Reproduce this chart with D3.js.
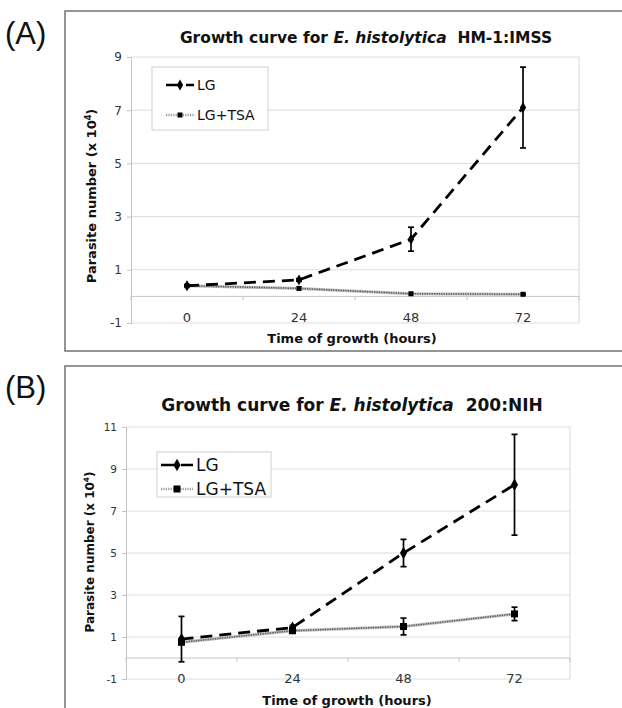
<!DOCTYPE html>
<html>
<head>
<meta charset="utf-8">
<script src="https://cdn.jsdelivr.net/npm/d3@7"></script>
<style>
  body { margin: 0; background: #fff; }
  svg { display: block; }
</style>
</head>
<body>
<svg id="chart" width="622" height="708"></svg>
<script>
// categories on the x axis (hours)
const hours = ["0", "24", "48", "72"];

// panel A, HM-1:IMSS
const ticksA = [-1, 1, 3, 5, 7, 9];
const lgA = [0.4, 0.62, 2.15, 7.1];
const lgErrA = [0.03, 0.05, 0.45, 1.52];
const tsaA = [0.4, 0.3, 0.1, 0.08];
const tsaErrA = [0.02, 0.03, 0.02, 0.02];

// panel B, 200:NIH
const ticksB = [-1, 1, 3, 5, 7, 9, 11];
const lgB = [0.9, 1.45, 5.0, 8.25];
const lgErrB = [1.08, 0.1, 0.65, 2.4];
const tsaB = [0.75, 1.3, 1.5, 2.1];
const tsaErrB = [0.1, 0.12, 0.4, 0.32];

const seriesNames = ["LG", "LG+TSA"];

const svg = d3.select('#chart');
const font = "'DejaVu Sans', Verdana, sans-serif";

function drawPanel(p) {
  const g = svg.append('g');

  // outer frame
  g.append('rect')
    .attr('x', p.frame[0]).attr('y', p.frame[1])
    .attr('width', p.frame[2]).attr('height', p.frame[3])
    .attr('fill', 'none').attr('stroke', '#7a7a7a').attr('stroke-width', 1.6);

  g.append('text')
    .attr('x', 5).attr('y', p.letterY)
    .attr('font-family', "'Liberation Sans', Arial, sans-serif")
    .attr('font-size', 31).attr('fill', '#111')
    .text(p.letter);

  const x = d3.scaleBand().domain(hours).range([p.left, p.right]);
  const y = d3.scaleLinear().domain([p.ticks[0], p.ticks[p.ticks.length - 1]]).range([p.bottom, p.top]);

  // gridlines
  g.append('g').selectAll('line')
    .data(p.ticks)
    .join('line')
    .attr('x1', p.left).attr('x2', p.right)
    .attr('y1', d => y(d)).attr('y2', d => y(d))
    .attr('stroke', '#dcdcdc').attr('stroke-width', 1);

  // right border
  g.append('line')
    .attr('x1', p.right).attr('x2', p.right)
    .attr('y1', p.top).attr('y2', p.bottom)
    .attr('stroke', '#d6d6d6');

  // y axis
  const yAxis = g.append('g')
    .attr('transform', `translate(${p.left},0)`)
    .call(d3.axisLeft(y).tickValues(p.ticks).tickFormat(d => String(d)).tickSize(4).tickPadding(5));
  yAxis.select('.domain').attr('stroke', '#c4c4c4');
  yAxis.selectAll('.tick line').attr('stroke', '#c4c4c4');
  yAxis.selectAll('.tick text')
    .attr('font-family', font).attr('font-size', p.yTickSize).attr('fill', '#333');

  // x axis at zero with ticks between categories
  const zeroY = y(0);
  g.append('line')
    .attr('x1', p.left).attr('x2', p.right)
    .attr('y1', zeroY).attr('y2', zeroY)
    .attr('stroke', '#c4c4c4');
  const bounds = hours.map(h => x(h)).concat([p.right]);
  g.append('g').selectAll('line')
    .data(bounds)
    .join('line')
    .attr('x1', d => d).attr('x2', d => d)
    .attr('y1', zeroY).attr('y2', zeroY + 4)
    .attr('stroke', '#c4c4c4');
  g.append('g').selectAll('text')
    .data(hours)
    .join('text')
    .attr('x', d => x(d) + x.bandwidth() / 2)
    .attr('y', p.xTickY)
    .attr('text-anchor', 'middle')
    .attr('font-family', font).attr('font-size', 13).attr('fill', '#333')
    .text(d => d);

  const cx = (d, i) => x(hours[i]) + x.bandwidth() / 2;
  const line = d3.line().x(cx).y(d => y(d));

  // error bars
  function errBars(vals, errs) {
    const eg = g.append('g').attr('stroke', '#000').attr('stroke-width', 1.7);
    eg.selectAll('.v').data(vals).join('line')
      .attr('x1', cx).attr('x2', cx)
      .attr('y1', (d, i) => y(d + errs[i])).attr('y2', (d, i) => y(d - errs[i]));
    [1, -1].forEach(s => {
      eg.selectAll('.c' + s).data(vals).join('line')
        .attr('x1', (d, i) => cx(d, i) - 3).attr('x2', (d, i) => cx(d, i) + 3)
        .attr('y1', (d, i) => y(d + s * errs[i])).attr('y2', (d, i) => y(d + s * errs[i]));
    });
  }
  errBars(p.tsa, p.tsaErr);
  errBars(p.lg, p.lgErr);

  // LG+TSA line, dotted grey
  g.append('path').datum(p.tsa)
    .attr('d', line).attr('fill', 'none')
    .attr('stroke', '#bdbdbd').attr('stroke-width', 3);
  g.append('path').datum(p.tsa)
    .attr('d', line).attr('fill', 'none')
    .attr('stroke', '#555').attr('stroke-width', 1.5)
    .attr('stroke-dasharray', '1.2,1.2');
  g.append('g').selectAll('rect').data(p.tsa).join('rect')
    .attr('x', (d, i) => cx(d, i) - p.sq / 2).attr('y', d => y(d) - p.sq / 2)
    .attr('width', p.sq).attr('height', p.sq).attr('fill', '#000');

  // LG line, dashed black
  g.append('path').datum(p.lg)
    .attr('d', line).attr('fill', 'none')
    .attr('stroke', '#000').attr('stroke-width', 2.8)
    .attr('stroke-dasharray', '12,7');
  const diamond = d3.symbol().type(d3.symbolDiamond).size(p.dia);
  g.append('g').selectAll('path').data(p.lg).join('path')
    .attr('d', diamond)
    .attr('transform', (d, i) => `translate(${cx(d, i)},${y(d)})`)
    .attr('fill', '#000');

  // title
  const title = g.append('text')
    .attr('x', p.titleX).attr('y', p.titleY)
    .attr('text-anchor', 'middle')
    .attr('font-family', font).attr('font-weight', 'bold')
    .attr('font-size', p.titleSize).attr('fill', '#111');
  title.append('tspan').text('Growth curve for ');
  title.append('tspan').attr('font-style', 'italic').text('E. histolytica');
  title.append('tspan').text('\u00a0\u00a0' + p.strain);

  // axis titles
  g.append('text')
    .attr('x', p.xTitleX).attr('y', p.xTitleY)
    .attr('text-anchor', 'middle')
    .attr('font-family', font).attr('font-weight', 'bold')
    .attr('font-size', 13).attr('fill', '#111')
    .text('Time of growth (hours)');

  const yt = g.append('text')
    .attr('transform', `translate(${p.yTitleX},${p.yTitleY}) rotate(-90)`)
    .attr('text-anchor', 'middle')
    .attr('font-family', font).attr('font-weight', 'bold')
    .attr('font-size', p.yTitleSize).attr('fill', '#111');
  yt.append('tspan').text('Parasite number (x 10');
  yt.append('tspan').attr('font-size', p.yTitleSize * 0.62).attr('dy', -5).text('4');
  yt.append('tspan').attr('dy', 5).text(')');

  // legend
  const lg = g.append('g');
  lg.append('rect')
    .attr('x', p.legend[0]).attr('y', p.legend[1])
    .attr('width', p.legend[2]).attr('height', p.legend[3])
    .attr('fill', '#fff').attr('stroke', '#d0d0d0');
  seriesNames.forEach((name, i) => {
    const ly = p.legendRows[i];
    const lx0 = p.legendLine[0], lx1 = p.legendLine[1];
    if (i === 0) {
      lg.append('line').attr('x1', lx0).attr('x2', lx1).attr('y1', ly).attr('y2', ly)
        .attr('stroke', '#000').attr('stroke-width', 2.4).attr('stroke-dasharray', '15,5');
      lg.append('path').attr('d', diamond)
        .attr('transform', `translate(${(lx0 + lx1) / 2},${ly})`).attr('fill', '#000');
    } else {
      lg.append('line').attr('x1', lx0).attr('x2', lx1).attr('y1', ly).attr('y2', ly)
        .attr('stroke', '#999').attr('stroke-width', 2.4).attr('stroke-dasharray', '1.2,1.2');
      lg.append('rect').attr('x', (lx0 + lx1) / 2 - p.sq / 2).attr('y', ly - p.sq / 2)
        .attr('width', p.sq).attr('height', p.sq).attr('fill', '#000');
    }
    lg.append('text')
      .attr('x', lx1 + 3).attr('y', ly).attr('dy', '0.36em')
      .attr('font-family', font).attr('font-size', p.legendSize).attr('fill', '#111')
      .text(name);
  });
}

drawPanel({
  letter: '(A)', letterY: 44, strain: 'HM-1:IMSS',
  frame: [65, 11, 600, 340],
  left: 131, right: 579, top: 57, bottom: 323,
  ticks: ticksA, yTickSize: 12, xTickY: 322,
  lg: lgA, lgErr: lgErrA, tsa: tsaA, tsaErr: tsaErrA,
  sq: 5, dia: 34,
  titleX: 366, titleY: 43, titleSize: 15.5,
  xTitleX: 352, xTitleY: 343,
  yTitleX: 96, yTitleY: 196, yTitleSize: 13,
  legend: [152, 67, 116, 63], legendRows: [85, 115], legendLine: [166, 194], legendSize: 14
});

drawPanel({
  letter: '(B)', letterY: 398, strain: '200:NIH',
  frame: [65, 366, 600, 400],
  left: 126, right: 570, top: 427, bottom: 679,
  ticks: ticksB, yTickSize: 10.5, xTickY: 683,
  lg: lgB, lgErr: lgErrB, tsa: tsaB, tsaErr: tsaErrB,
  sq: 7, dia: 44,
  titleX: 352, titleY: 411, titleSize: 17,
  xTitleX: 347, xTitleY: 705,
  yTitleX: 94, yTitleY: 552, yTitleSize: 12,
  legend: [157, 452, 114, 45], legendRows: [465, 489], legendLine: [161, 193], legendSize: 17
});
</script>
</body>
</html>
